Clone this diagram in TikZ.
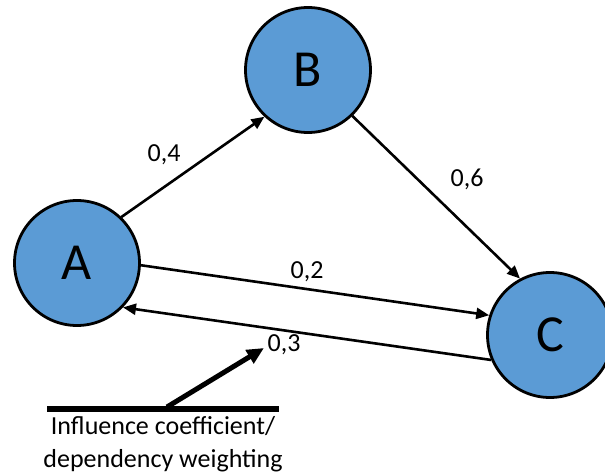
\documentclass[tikz,border=0pt]{standalone}
\usepackage{fontspec}
\setmainfont{Carlito}
\usetikzlibrary{arrows.meta}
\definecolor{nodeblue}{HTML}{5B9BD5}
\tikzset{
  vertex/.style={circle, draw=black, line width=2.8pt, fill=nodeblue,
    minimum size=125pt, inner sep=0pt, font=\fontsize{52}{62}\selectfont},
  link/.style={line width=2.6pt, -{Triangle[length=13pt,width=11pt]}},
  weight/.style={inner sep=0pt, font=\fontsize{26}{31}\selectfont},
  legendbar/.style={line width=6.5pt},
  pointer/.style={line width=5pt, -{Triangle[length=17pt,width=15pt]}}
}
\begin{document}
\begin{tikzpicture}[x=1pt, y=-1pt]
  \useasboundingbox (0,0) rectangle (605,476);

  % the three factors
  \node[vertex] (A) at (77,263) {A};
  \node[vertex] (B) at (308,70) {B};
  \node[vertex] (C) at (550,335) {C};

  % weighted influences
  \draw[link] (A.46) -- (B.227);
  \draw[link] (B.-46) -- (C.118);
  \draw[link] (A.-2) -- (C.162);
  \draw[link] (C.203) -- (A.-44);

  \node[weight] (w04) at (164,155) {0,4};
  \node[weight] (w06) at (467,179) {0,6};
  \node[weight] (w02) at (307,272) {0,2};
  \node[weight] (w03) at (284,345) {0,3};

  % legend
  \coordinate (barL) at (47,409);
  \coordinate (barR) at (279,409);
  \coordinate (barMid) at (167,407);
  \coordinate (tip) at (264,348);
  \draw[legendbar] (barL) -- (barR);
  \draw[pointer] (barMid) -- (tip);
  \node[weight, font=\fontsize{26}{33}\selectfont, align=center, anchor=north]
    (legend) at (163,416) {Influence coefficient/\\dependency weighting};
\end{tikzpicture}
\end{document}
